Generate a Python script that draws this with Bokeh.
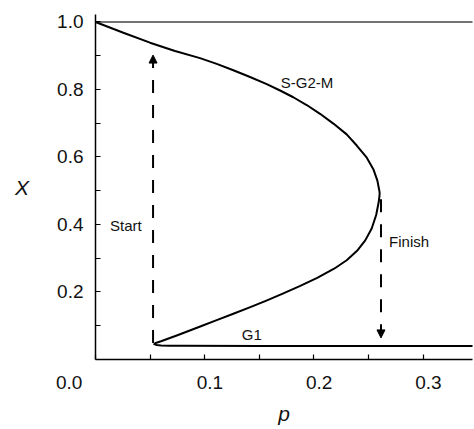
from bokeh.plotting import figure
from bokeh.models import Range1d, FixedTicker, Arrow, NormalHead
from bokeh.core.properties import value
from bokeh.embed import file_html
from bokeh.resources import INLINE

# steady-state curve X(p): upper S-G2-M branch, nose, lower branch, G1 branch
curve_p = [0.0, 0.0255, 0.0499, 0.0728, 0.0957, 0.1110, 0.1262, 0.1415, 0.1568, 0.1690,
           0.1811, 0.1934, 0.2056, 0.2178, 0.2300, 0.2392, 0.2484, 0.2544, 0.2581, 0.2599,
           0.2602, 0.2600, 0.2594, 0.2570, 0.2529, 0.2470, 0.2395, 0.2300, 0.2185, 0.2030,
           0.1875, 0.1715, 0.1565, 0.1412, 0.1262, 0.1110, 0.0965, 0.0750, 0.0600, 0.0545,
           0.0538, 0.0560, 0.0600, 0.0680, 0.0800, 0.1500, 0.2500, 0.3500]
curve_X = [1.0, 0.9683, 0.9387, 0.9140, 0.8930, 0.8760, 0.8570, 0.8370, 0.8160, 0.7970,
           0.7770, 0.7540, 0.7280, 0.6990, 0.6670, 0.6340, 0.5980, 0.5640, 0.5300, 0.5000,
           0.4920, 0.4850, 0.4680, 0.4280, 0.3880, 0.3530, 0.3220, 0.2940, 0.2690, 0.2420,
           0.2180, 0.1950, 0.1745, 0.1545, 0.1355, 0.1165, 0.0985, 0.0720, 0.0540, 0.0480,
           0.0455, 0.0430, 0.0418, 0.0410, 0.0405, 0.0400, 0.0400, 0.0400]
# trivial steady state X = 1
top_p = [0.0, 0.35]
top_X = [1.0, 1.0]

# transition arrows (p, X start, X end)
start_p, start_X0, start_X1 = 0.0527, 0.049, 0.902
finish_p, finish_X0, finish_X1 = 0.2614, 0.475, 0.064

y_ticks = [0.1, 0.2, 0.3, 0.4, 0.5, 0.6, 0.7, 0.8, 0.9, 1.0]
y_labels = {0.2: "0.2", 0.4: "0.4", 0.6: "0.6", 0.8: "0.8", 1.0: "1.0"}
x_ticks = [0.0, 0.05, 0.1, 0.15, 0.2, 0.25, 0.3]
NB = "\u00a0"
x_labels = {0.0: "0.0" + NB * 10, 0.1: NB * 2 + "0.1", 0.2: NB * 2 + "0.2", 0.3: NB * 2 + "0.3"}

FONT = "Liberation Sans"

p = figure(width=474, height=429, output_backend="svg", toolbar_location=None,
           x_range=Range1d(0, 0.3452), y_range=Range1d(0, 1.0222),
           min_border_left=95, min_border_right=2, min_border_top=14, min_border_bottom=70)
p.outline_line_color = None
p.grid.grid_line_color = None
p.background_fill_color = "white"
p.border_fill_color = "white"

p.line(top_p, top_X, line_color="#444444", line_width=1.5)
p.line(curve_p, curve_X, line_color="black", line_width=2, line_join="round")

for xa, y0, y1 in [(start_p, start_X0, start_X1), (finish_p, finish_X0, finish_X1)]:
    p.add_layout(Arrow(x_start=xa, y_start=y0, x_end=xa, y_end=y1,
                       line_color="black", line_width=2, line_dash="13 12",
                       end=NormalHead(size=8, fill_color="black", line_color="black", line_width=1)))

# axes
for ax in (p.xaxis[0], p.yaxis[0]):
    ax.axis_line_color = "black"
    ax.axis_line_width = 1.5
    ax.major_tick_in = 5
    ax.major_tick_out = 0
    ax.major_tick_line_width = 1.2
    ax.minor_tick_line_color = None
    ax.major_label_text_font = FONT
    ax.major_label_text_font_size = "19px"
    ax.major_label_text_color = "#111111"
    ax.axis_label_text_font = FONT
    ax.axis_label_text_font_style = "italic"
    ax.axis_label_text_font_size = "21px"
    ax.axis_label_text_color = "#111111"

p.yaxis.ticker = FixedTicker(ticks=y_ticks)
p.yaxis.major_label_overrides = {t: y_labels.get(t, "") for t in y_ticks}
p.yaxis.major_label_standoff = 12
p.yaxis.axis_label = "X"
p.yaxis.axis_label_orientation = "horizontal"
p.yaxis.axis_label_standoff = 25

p.xaxis.ticker = FixedTicker(ticks=x_ticks)
p.xaxis.major_label_overrides = {t: x_labels.get(t, "") for t in x_ticks}
p.xaxis.major_label_standoff = 12
p.xaxis.axis_label = "p"
p.xaxis.axis_label_standoff = 6

# annotations
ann_text = ["S-G2-M", "Start", "Finish", "G1"]
ann_p = [0.1697, 0.0133, 0.2688, 0.134]
ann_X = [0.820, 0.3956, 0.350, 0.0726]
p.text(x=ann_p, y=ann_X, text=ann_text, text_font=value(FONT), text_font_size="15px",
       text_align="left", text_baseline="alphabetic", text_color="#111111")

open("out.html", "w").write(file_html(p, INLINE))
